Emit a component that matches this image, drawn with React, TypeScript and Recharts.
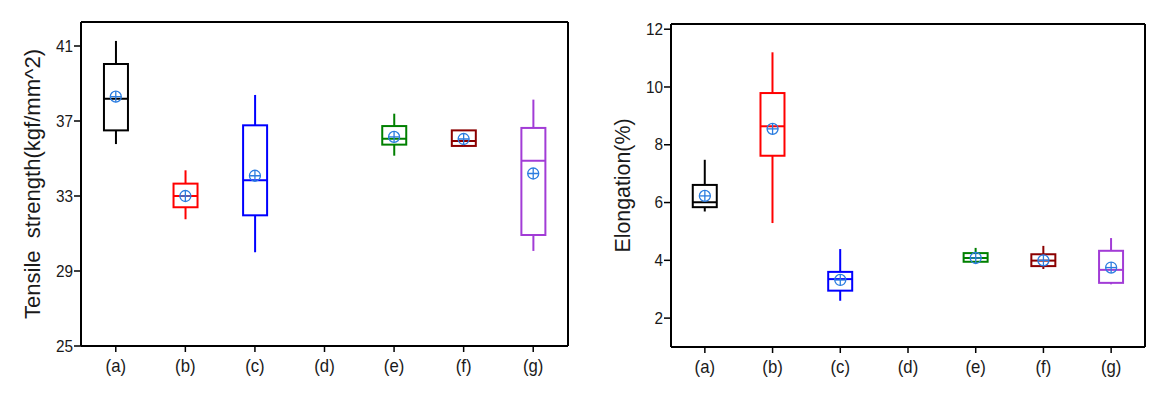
import { ComposedChart, Bar, Scatter, XAxis, YAxis } from 'recharts'

const categories = ['(a)', '(b)', '(c)', '(d)', '(e)', '(f)', '(g)']
const boxColors = ['#000000', '#ff0000', '#0000ff', '#000000', '#008000', '#8b0000', '#a23cd6']

// tensile strength (kgf/mm^2)
const tensileMin = [35.77, 31.76, 30.0, null, 35.15, 35.67, 30.07]
const tensileQ1 = [36.5, 32.4, 31.97, null, 35.74, 35.67, 30.92]
const tensileMedian = [38.19, 33.0, 33.84, null, 36.06, 35.93, 34.88]
const tensileQ3 = [40.04, 33.66, 36.77, null, 36.73, 36.5, 36.63]
const tensileMax = [41.27, 34.37, 38.39, null, 37.39, 36.5, 38.14]
const tensileMean = [38.3, 33.0, 34.08, null, 36.15, 36.04, 34.2]
const tensileTicks = [25, 29, 33, 37, 41]

// elongation (%)
const elongMin = [5.69, 5.29, 2.6, null, 3.92, 3.7, 3.17]
const elongQ1 = [5.84, 7.62, 2.95, null, 3.95, 3.8, 3.22]
const elongMedian = [6.01, 8.64, 3.35, null, 4.08, 3.99, 3.67]
const elongQ3 = [6.61, 9.79, 3.6, null, 4.25, 4.21, 4.33]
const elongMax = [7.48, 11.2, 4.39, null, 4.43, 4.5, 4.77]
const elongMean = [6.23, 8.55, 3.32, null, 4.08, 4.0, 3.75]
const elongTicks = [2, 4, 6, 8, 10, 12]

const FONT = "'Liberation Sans', Arial, sans-serif"
const SQUEEZE = 0.93
const BOX_W = 24
const MEAN_COLOR = '#2b7de0'

type Row = {
  cat: string
  color: string
  min: number | null
  q1: number | null
  median: number | null
  q3: number | null
  max: number | null
  mean: number | null
}

function buildRows(
  min: (number | null)[],
  q1: (number | null)[],
  median: (number | null)[],
  q3: (number | null)[],
  max: (number | null)[],
  mean: (number | null)[],
): Row[] {
  return categories.map((cat, i) => ({
    cat,
    color: boxColors[i],
    min: min[i],
    q1: q1[i],
    median: median[i],
    q3: q3[i],
    max: max[i],
    mean: mean[i],
  }))
}

const tensileRows = buildRows(tensileMin, tensileQ1, tensileMedian, tensileQ3, tensileMax, tensileMean)
const elongRows = buildRows(elongMin, elongQ1, elongMedian, elongQ3, elongMax, elongMean)

function WhiskerShape(props: any) {
  const { x, y, width, height, payload } = props
  if (payload == null || payload.min == null) return null
  const cx = x + width / 2
  const top = Math.min(y, y + height)
  const bottom = Math.max(y, y + height)
  return <line x1={cx} x2={cx} y1={top} y2={bottom} stroke={payload.color} strokeWidth={2} />
}

function BoxShape(props: any) {
  const { x, y, width, height, payload } = props
  if (payload == null || payload.q1 == null) return null
  const cx = x + width / 2
  const top = Math.min(y, y + height)
  return (
    <rect
      x={cx - BOX_W / 2}
      y={top}
      width={BOX_W}
      height={Math.abs(height)}
      fill="#ffffff"
      stroke={payload.color}
      strokeWidth={2}
    />
  )
}

function MedianShape(props: any) {
  const { cx, cy, payload } = props
  if (cy == null || payload.median == null) return null
  return (
    <line x1={cx - BOX_W / 2} x2={cx + BOX_W / 2} y1={cy} y2={cy} stroke={payload.color} strokeWidth={2} />
  )
}

function MeanShape(props: any) {
  const { cx, cy, payload } = props
  if (cy == null || payload.mean == null) return null
  const r = 5.5
  return (
    <g stroke={MEAN_COLOR} strokeWidth={1.3} fill="none">
      <circle cx={cx} cy={cy} r={r} />
      <line x1={cx - r} x2={cx + r} y1={cy} y2={cy} />
      <line x1={cx} x2={cx} y1={cy - r} y2={cy + r} />
    </g>
  )
}

function XTick(props: any) {
  const { x, y, payload } = props
  return (
    <text
      transform={`translate(${x} ${y + 18}) scale(${SQUEEZE} 1)`}
      textAnchor="middle"
      fontSize={18}
      fontFamily={FONT}
      fill="#1a1a1a"
    >
      {payload.value}
    </text>
  )
}

function YTick(props: any) {
  const { x, y, payload } = props
  return (
    <text
      transform={`translate(${x + 1} ${y}) scale(${SQUEEZE} 1)`}
      textAnchor="end"
      dominantBaseline="central"
      fontSize={16.5}
      fontFamily={FONT}
      fill="#1a1a1a"
    >
      {payload.value}
    </text>
  )
}

type ChartProps = {
  rows: Row[]
  width: number
  domain: [number, number]
  ticks: number[]
  title: string
  titleLength: number
  margin: { top: number; right: number; bottom: number; left: number }
}

function BoxChart({ rows, width, domain, ticks, title, titleLength, margin }: ChartProps) {
  return (
    <ComposedChart width={width} height={395} data={rows} margin={margin}>
      <XAxis
        dataKey="cat"
        height={30}
        tickSize={6}
        tickLine={{ stroke: '#000', strokeWidth: 1.5 }}
        axisLine={{ stroke: '#000', strokeWidth: 2 }}
        tick={<XTick />}
      />
      <XAxis
        xAxisId="top"
        dataKey="cat"
        orientation="top"
        height={1}
        tick={false}
        tickLine={false}
        axisLine={{ stroke: '#000', strokeWidth: 2 }}
      />
      <XAxis xAxisId="b" dataKey="cat" hide />
      <YAxis
        width={60}
        domain={domain}
        ticks={ticks}
        allowDataOverflow
        tickSize={7}
        tickLine={{ stroke: '#000', strokeWidth: 1.5 }}
        axisLine={{ stroke: '#000', strokeWidth: 2 }}
        tick={<YTick />}
        label={{
          content: (p: any) => {
            const vb = p.viewBox
            const cx = vb.x + 11
            const cy = vb.y + vb.height / 2
            return (
              <text
                x={cx}
                y={cy}
                transform={`rotate(-90 ${cx} ${cy})`}
                textAnchor="middle"
                dominantBaseline="central"
                fontSize={22}
                fill="#1a1a1a"
                fontFamily={FONT}
                textLength={titleLength}
                lengthAdjust="spacingAndGlyphs"
                style={{ whiteSpace: 'pre' }}
              >
                {title}
              </text>
            )
          },
        }}
      />
      <YAxis
        yAxisId="r"
        orientation="right"
        width={1}
        domain={domain}
        allowDataOverflow
        tick={false}
        tickLine={false}
        axisLine={{ stroke: '#000', strokeWidth: 2 }}
      />
      <Bar
        xAxisId="top"
        yAxisId="r"
        dataKey={(d: Row) => (d.min == null ? null : [d.min, d.max])}
        shape={WhiskerShape}
        isAnimationActive={false}
      />
      <Bar
        xAxisId="b"
        dataKey={(d: Row) => (d.q1 == null ? null : [d.q1, d.q3])}
        shape={BoxShape}
        isAnimationActive={false}
      />
      <Scatter dataKey="median" shape={MedianShape} isAnimationActive={false} />
      <Scatter dataKey="mean" shape={MeanShape} isAnimationActive={false} />
    </ComposedChart>
  )
}

export default function App() {
  return (
    <div
      style={{
        position: 'absolute',
        left: 0,
        top: 0,
        width: 1175,
        height: 395,
        background: '#fff',
        display: 'flex',
      }}
    >
      <BoxChart
        rows={tensileRows}
        width={590}
        domain={[25, 42.28]}
        ticks={tensileTicks}
        title={'Tensile  strength(kgf/mm^2)'}
        titleLength={270}
        margin={{ top: 21, right: 21, bottom: 19, left: 21 }}
      />
      <BoxChart
        rows={elongRows}
        width={585}
        domain={[1, 12.18]}
        ticks={elongTicks}
        title="Elongation(%)"
        titleLength={134}
        margin={{ top: 23, right: 29, bottom: 18, left: 21 }}
      />
    </div>
  )
}
